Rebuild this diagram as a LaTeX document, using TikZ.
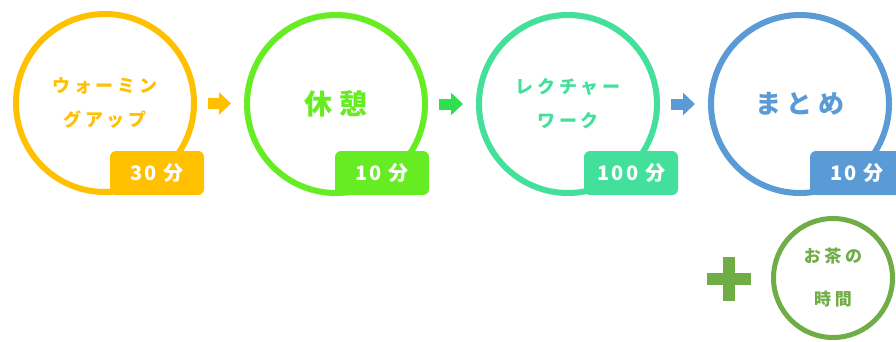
\documentclass[tikz,border=0pt]{standalone}
\usepackage{fontspec}
\usetikzlibrary{arrows.meta,positioning}
\usepackage{xcolor}
\newfontfamily\jpfont{Noto Sans CJK JP}[LetterSpace=22]
\newfontfamily\jpwide{Noto Sans CJK JP}[LetterSpace=12]

\definecolor{warmup}{HTML}{FFC000}
\definecolor{rest}{HTML}{66EC22}
\definecolor{restarrow}{HTML}{2EE04E}
\definecolor{lecture}{HTML}{42E09A}
\definecolor{summary}{HTML}{5B9BD5}
\definecolor{teatime}{HTML}{70AD47}

\begin{document}
\begin{tikzpicture}[x=1pt, y=-1pt]
\tikzset{
    stage/.style={circle, draw=#1, line width=6pt, minimum size=178pt, inner sep=0pt, text=#1, align=center, font=\jpfont\bfseries\fontsize{18}{34}\selectfont},
    badge/.style={rectangle, rounded corners=6pt, fill=#1, text=white, minimum width=94pt, minimum height=44pt, inner sep=0pt, font=\jpwide\bfseries\fontsize{20}{24}\selectfont},
    flowarrow/.style={draw=#1, line width=11pt, -{Triangle[length=12pt, width=22pt]}, shorten <=11pt, shorten >=13pt}
}
\useasboundingbox (0,0) rectangle (896,341);

\node[stage=warmup] (warmup) at (105,103) {ウォーミン\\グアップ};
\node[stage=rest, font=\jpfont\bfseries\fontsize{28}{34}\selectfont] (rest) at (336,104) {休憩};
\node[stage=lecture] (lecture) at (568,104) {レクチャー\\ワーク};
\node[stage=summary, font=\jpfont\bfseries\fontsize{26}{34}\selectfont] (summary) at (800,104) {まとめ};

\node[badge=warmup] (warmupTime) at (157,173) {30\,\,分};
\node[badge=rest] (restTime) at (382,173) {10\,\,分};
\node[badge=lecture] (lectureTime) at (631,173) {100\,\,分};
\node[badge=summary] (summaryTime) at (857,173) {10\,\,分};
% the last badge runs past the page edge, as in the original

\draw[flowarrow=warmup] (warmup) -- (rest);
\draw[flowarrow=restarrow] (rest) -- (lecture);
\draw[flowarrow=summary] (lecture) -- (summary);

\node[stage=teatime, line width=5pt, minimum size=119pt, font=\jpfont\bfseries\fontsize{17}{43}\selectfont] (tea) at (833,278) {お茶の\\時間};
\node[inner sep=0pt, minimum size=44pt] (plus) at (729,279) {};
\draw[teatime, line width=12pt] (plus.west) -- (plus.east) (plus.north) -- (plus.south);

\end{tikzpicture}
\end{document}
